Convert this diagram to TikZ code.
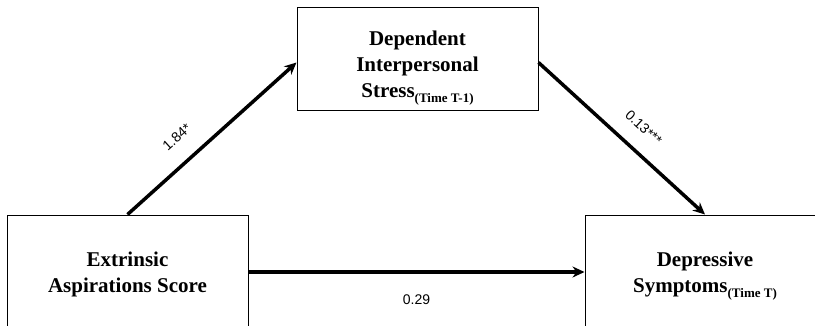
\documentclass[tikz,border=0pt]{standalone}
\usepackage{fontspec}
\setmainfont{Liberation Serif}
\setsansfont{Liberation Sans}
\usetikzlibrary{arrows.meta}
\newcommand{\timesub}[1]{\raisebox{-5pt}{\fontsize{13}{13}\selectfont #1}}

\begin{document}
\begin{tikzpicture}[x=1pt,y=-1pt,
  box/.style={draw,line width=1pt,minimum width=241pt,minimum height=114pt,align=center,font=\fontsize{21}{26}\selectfont\bfseries},
  effect/.style={line width=3.5pt,-{Stealth[length=12pt,width=11pt]}},
  coef/.style={inner sep=0pt,font=\fontsize{14}{14}\selectfont\sffamily}]
\useasboundingbox (0,0) rectangle (815,325);
\clip (0,0) rectangle (815,325);
\node (ext) at (127.5,272) [box,text depth=0pt] {Extrinsic\\Aspirations Score};
\node (dep) at (417.5,58.5) [box,minimum height=103pt,text height=86pt] {Dependent\\Interpersonal\\Stress\timesub{(Time T-1)}};
\node (dsym) at (705,272) [box,minimum width=240pt,text depth=0pt] {Depressive\\Symptoms\timesub{(Time T)}};
\draw [effect] (ext.north) -- ([yshift=-4pt]dep.west) node [coef,pos=0.39,above=18pt,sloped] {1.84*};
\draw [effect] ([yshift=-4pt]dep.east) -- (dsym.north) node [coef,pos=0.54,above=16pt,sloped] {0.13***};
\draw [effect] (ext.east) -- (dsym.west) node [coef,midway,below=21pt] {0.29};
\end{tikzpicture}
\end{document}
